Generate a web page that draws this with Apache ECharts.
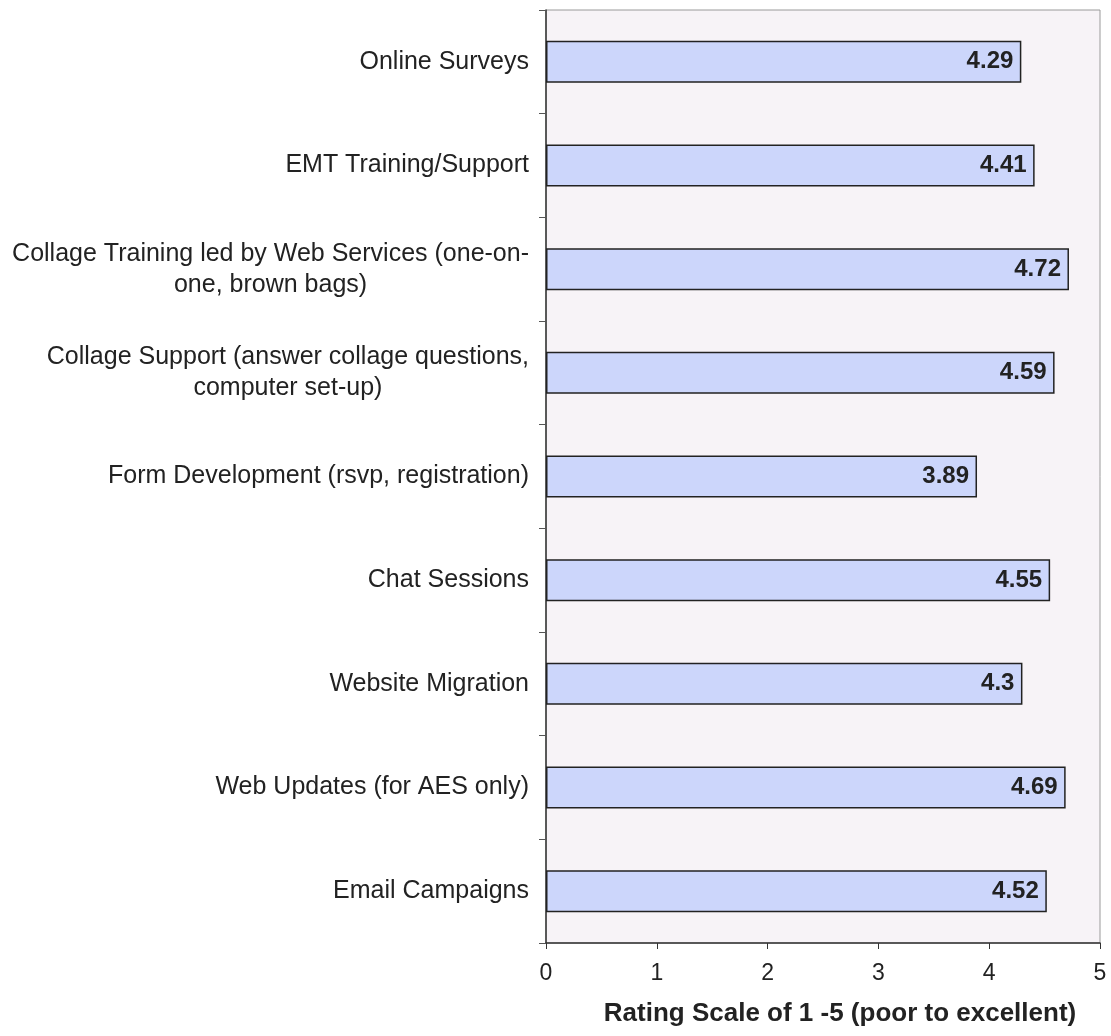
<!DOCTYPE html>
<html>
<head>
<meta charset="utf-8">
<script src="https://cdn.jsdelivr.net/npm/echarts@6/dist/echarts.min.js"></script>
<style>
  html, body { margin: 0; padding: 0; background: #ffffff; }
  #chart { width: 1111px; height: 1036px; }
</style>
</head>
<body>
<div id="chart"></div>
<script>
// Service ratings, listed top to bottom
const categories = [
  'Online Surveys',
  'EMT Training/Support',
  'Collage Training led by Web Services (one-on-\none, brown bags)',
  'Collage Support (answer collage questions,\ncomputer set-up)',
  'Form Development (rsvp, registration)',
  'Chat Sessions',
  'Website Migration',
  'Web Updates (for AES only)',
  'Email Campaigns'
];
const ratings = [4.29, 4.41, 4.72, 4.59, 3.89, 4.55, 4.3, 4.69, 4.52];
const axisTicks = [0, 1, 2, 3, 4, 5];
const axisTitle = 'Rating Scale of 1 -5 (poor to excellent)';

const FONT = 'Liberation Sans, Arial, sans-serif';

const chart = echarts.init(document.getElementById('chart'), null, { renderer: 'canvas' });

chart.setOption({
  backgroundColor: '#ffffff',
  animation: false,
  grid: {
    left: 546,
    right: 11,
    top: 10,
    bottom: 93,
    show: true,
    backgroundColor: '#f7f3f7',
    borderColor: '#9a9a9a',
    borderWidth: 1
  },
  xAxis: {
    type: 'value',
    min: axisTicks[0],
    max: axisTicks[axisTicks.length - 1],
    interval: 1,
    name: axisTitle,
    nameLocation: 'middle',
    nameGap: 58,
    nameTextStyle: {
      fontFamily: FONT,
      fontSize: 26,
      fontWeight: 'bold',
      color: '#222222',
      padding: [0, 0, 0, 34]
    },
    axisLine: { show: true, lineStyle: { color: '#333333', width: 1.5 } },
    axisTick: { show: true, length: 6, lineStyle: { color: '#333333' } },
    axisLabel: {
      margin: 19,
      fontFamily: FONT,
      fontSize: 23,
      color: '#222222'
    },
    splitLine: { show: false }
  },
  yAxis: {
    type: 'category',
    data: categories,
    inverse: true,
    axisLine: { show: true, lineStyle: { color: '#333333', width: 1.5 } },
    axisTick: { show: true, length: 7, alignWithLabel: false, lineStyle: { color: '#555555' } },
    axisLabel: {
      margin: 17,
      fontFamily: FONT,
      fontSize: 25,
      color: '#222222',
      lineHeight: 31,
      formatter: function (v) {
        return v.split('\n').map(function (line) { return '{c|' + line + '}'; }).join('\n');
      },
      rich: {
        c: {
          align: 'center',
          fontFamily: FONT,
          fontSize: 25,
          lineHeight: 31,
          color: '#222222'
        }
      }
    },
    splitLine: { show: false }
  },
  series: [{
    type: 'bar',
    data: ratings,
    barWidth: 42,
    itemStyle: {
      color: '#ccd6fb',
      borderColor: '#222222',
      borderWidth: 1.5
    },
    label: {
      show: true,
      position: 'insideRight',
      distance: 8,
      fontFamily: FONT,
      fontSize: 24,
      fontWeight: 'bold',
      color: '#222222'
    }
  }]
});
</script>
</body>
</html>
